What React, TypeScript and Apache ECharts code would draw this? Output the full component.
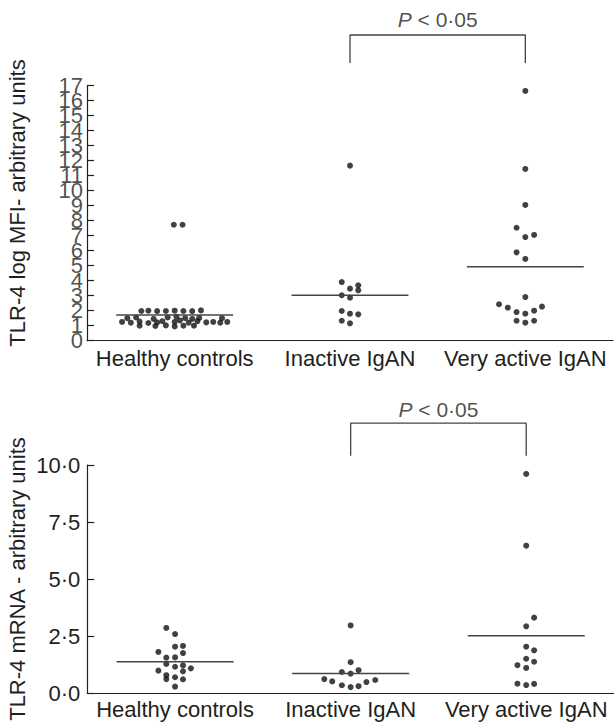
import React, { useEffect, useRef } from "react";
import * as echarts from "echarts";

const categories = ["Healthy controls", "Inactive IgAN", "Very active IgAN"];
const mfiTickLabels = [0, 1, 2, 3, 4, 5, 6, 7, 8, 9, 10, 11, 12, 13, 14, 15, 16, 17];

// [jitter offset in category units, value]
const mfiHealthy = [
  [-0.19, 1.98], [-0.15, 2.0], [-0.1, 1.97], [-0.05, 1.98], [0.0, 2.0], [0.05, 1.98], [0.1, 1.97], [0.15, 2.02],
  [-0.27, 1.5], [-0.22, 1.55], [-0.12, 1.45], [-0.04, 1.55], [0.01, 1.6], [0.06, 1.5], [0.1, 1.45], [0.14, 1.52], [0.27, 1.5],
  [-0.3, 1.25], [-0.25, 1.2], [-0.2, 1.28], [-0.15, 1.18], [-0.1, 1.22], [-0.07, 1.3], [0.0, 1.25], [0.03, 1.35], [0.08, 1.2],
  [0.13, 1.3], [0.18, 1.22], [0.22, 1.25], [0.26, 1.2], [0.3, 1.25],
  [-0.2, 1.0], [-0.11, 0.98], [-0.05, 1.02], [0.0, 0.95], [0.05, 1.0], [0.11, 1.0],
  [-0.005, 7.73], [0.045, 7.73],
];
const mfiInactive = [
  [0, 11.67], [-0.047, 3.91], [0, 3.47], [0.047, 3.69], [0.047, 3.36], [-0.047, 3.03], [0, 2.87],
  [-0.047, 1.98], [0, 1.8], [0.047, 1.76], [-0.047, 1.33], [0, 1.16],
];
const mfiVeryActive = [
  [0, 16.65], [0, 11.45], [0, 9.05], [-0.05, 7.53], [0, 6.91], [0.05, 7.05], [-0.05, 5.89], [0, 5.45],
  [0, 2.91], [-0.15, 2.43], [-0.1, 2.2], [-0.05, 1.91], [0, 1.8], [0.05, 2.0], [0.095, 2.27],
  [-0.05, 1.33], [0, 1.2], [0.05, 1.33],
];
const mfiMedians = [1.71, 3.03, 4.93];

const mrnaHealthy = [
  [-0.05, 2.87], [0, 2.6], [0, 2.05], [0.045, 2.08], [-0.095, 1.82], [0.045, 1.77], [-0.05, 1.57], [0, 1.58],
  [-0.05, 1.29], [0, 1.17], [0.045, 1.23], [0.09, 1.1], [-0.095, 1.0], [0.045, 0.97], [-0.05, 0.8], [0, 0.71],
  [-0.05, 0.63], [0.045, 0.62], [0, 0.3],
];
const mrnaInactive = [
  [0, 2.98], [0, 1.37], [-0.05, 0.94], [0.045, 1.02], [0, 0.87], [-0.15, 0.63], [-0.105, 0.53], [-0.05, 0.36],
  [0, 0.28], [0.045, 0.32], [0.09, 0.5], [0.14, 0.59],
];
const mrnaVeryActive = [
  [0, 9.61], [0, 6.47], [0.045, 3.32], [0, 2.94], [0, 2.05], [0.045, 1.89], [0, 1.52], [0.045, 1.39],
  [-0.05, 1.24], [0, 1.12], [-0.05, 0.43], [0, 0.37], [0.045, 0.42],
];
const mrnaMedians = [1.39, 0.88, 2.53];

// significance brackets: [bottom, top, text level]
const mfiBracket = [18.51, 20.38, 21.4];
const mrnaBracket = [10.41, 11.83, 12.45];
const pText = "{i|P} < 0·05";

const FONT = "'Liberation Sans', Arial, Helvetica, sans-serif";
const INK = "#231f20";

function groupPoints(groups: number[][][]) {
  const out: number[][] = [];
  groups.forEach((g, i) => g.forEach(([o, v]) => out.push([i + o, v])));
  return out;
}

function panelSeries(idx: number, groups: number[][][], medians: number[], bracket: number[]) {
  const s: any[] = [];
  s.push({
    type: "scatter",
    xAxisIndex: idx * 2 + 1,
    yAxisIndex: idx,
    data: groupPoints(groups),
    symbol: "circle",
    symbolSize: 6,
    itemStyle: { color: "#111" },
    silent: true,
  });
  medians.forEach((m, i) => {
    s.push({
      type: "line",
      xAxisIndex: idx * 2 + 1,
      yAxisIndex: idx,
      data: [[i - 1 / 3, m], [i + 1 / 3, m]],
      symbol: "none",
      lineStyle: { color: "#444", width: 1.5 },
      silent: true,
    });
  });
  const [b0, b1, t] = bracket;
  s.push({
    type: "line",
    xAxisIndex: idx * 2 + 1,
    yAxisIndex: idx,
    data: [[1, b0], [1, b1], [2, b1], [2, b0]],
    symbol: "none",
    clip: false,
    lineStyle: { color: "#444", width: 1.3 },
    silent: true,
  });
  s.push({
    type: "scatter",
    xAxisIndex: idx * 2 + 1,
    yAxisIndex: idx,
    data: [[1.5, t]],
    symbolSize: 0,
    clip: false,
    silent: true,
    label: {
      show: true,
      position: "inside",
      formatter: pText,
      fontSize: 21,
      color: INK,
      fontFamily: FONT,
      textBorderWidth: 0,
      rich: { i: { fontStyle: "italic", fontSize: 21, color: INK, fontFamily: FONT, textBorderWidth: 0 } },
    },
  });
  return s;
}

const catAxis = (gridIndex: number, margin: number) => ({
  type: "category",
  gridIndex,
  data: categories,
  boundaryGap: true,
  axisLine: { onZero: false, lineStyle: { color: INK, width: 1.2 } },
  axisTick: { inside: true, alignWithLabel: true, length: 6, lineStyle: { color: INK, width: 1.2 } },
  axisLabel: { fontSize: 22, color: INK, fontFamily: FONT, margin, interval: 0 },
  splitLine: { show: false },
});
const valXAxis = (gridIndex: number) => ({
  type: "value",
  gridIndex,
  min: -0.5,
  max: 2.5,
  show: false,
  splitLine: { show: false },
});

export default function App() {
  const ref = useRef<HTMLDivElement>(null);
  useEffect(() => {
    if (!ref.current) return;
    const chart = echarts.init(ref.current, null, { renderer: "svg" });
    const fmt = (v: number) => v.toFixed(1).replace(".", "·");
    const yBase = {
      type: "value",
      axisLine: { show: true, onZero: false, lineStyle: { color: INK, width: 1.2 } },
      axisTick: { show: true, inside: true, length: 7, lineStyle: { color: INK, width: 1.2 } },
      splitLine: { show: false },
    };
    chart.setOption({
      animation: false,
      backgroundColor: "#fff",
      textStyle: { fontFamily: FONT },
      grid: [
        { left: 87, right: 1, top: 85.7, bottom: 382.3 },
        { left: 87.3, right: -8.5, top: 465, bottom: 29.5 },
      ],
      xAxis: [catAxis(0, 7), valXAxis(0), catAxis(1, 5), valXAxis(1)],
      yAxis: [
        {
          ...yBase,
          gridIndex: 0,
          min: 0,
          max: 17,
          interval: 1,
          axisLabel: { show: false },
        },
        {
          ...yBase,
          gridIndex: 1,
          min: 0,
          max: 10,
          interval: 2.5,
          axisLabel: {
            fontSize: 22, color: INK, fontFamily: FONT, margin: 7, formatter: fmt,
            showMinLabel: true, showMaxLabel: true,
          },
        },
      ],
      graphic: [
        {
          type: "text",
          x: 17,
          y: 203,
          rotation: Math.PI / 2,
          style: {
            text: "TLR-4 log MFI- arbitrary units",
            fontSize: 22,
            fontFamily: FONT,
            fill: INK,
            align: "center",
            verticalAlign: "middle",
          },
        },
        {
          type: "text",
          x: 17,
          y: 579,
          rotation: Math.PI / 2,
          style: {
            text: "TLR-4 mRNA - arbitrary units",
            fontSize: 22,
            fontFamily: FONT,
            fill: INK,
            align: "center",
            verticalAlign: "middle",
          },
        },
      ],
      series: [
        {
          type: "scatter",
          xAxisIndex: 1,
          yAxisIndex: 0,
          data: mfiTickLabels.map((v) => [-0.5, v]),
          symbolSize: 0,
          clip: false,
          silent: true,
          itemStyle: { color: "transparent" },
          label: {
            show: true,
            position: "left",
            distance: 4,
            formatter: (p: any) => String(p.value[1]),
            fontSize: 22,
            color: INK,
            fontFamily: FONT,
            textBorderWidth: 0,
            textBorderColor: "transparent",
          },
        },
        ...panelSeries(0, [mfiHealthy, mfiInactive, mfiVeryActive], mfiMedians, mfiBracket),
        ...panelSeries(1, [mrnaHealthy, mrnaInactive, mrnaVeryActive], mrnaMedians, mrnaBracket),
      ],
    });
    return () => chart.dispose();
  }, []);
  return <div ref={ref} style={{ width: 614, height: 723, position: "absolute", left: 0, top: 0 }} />;
}
